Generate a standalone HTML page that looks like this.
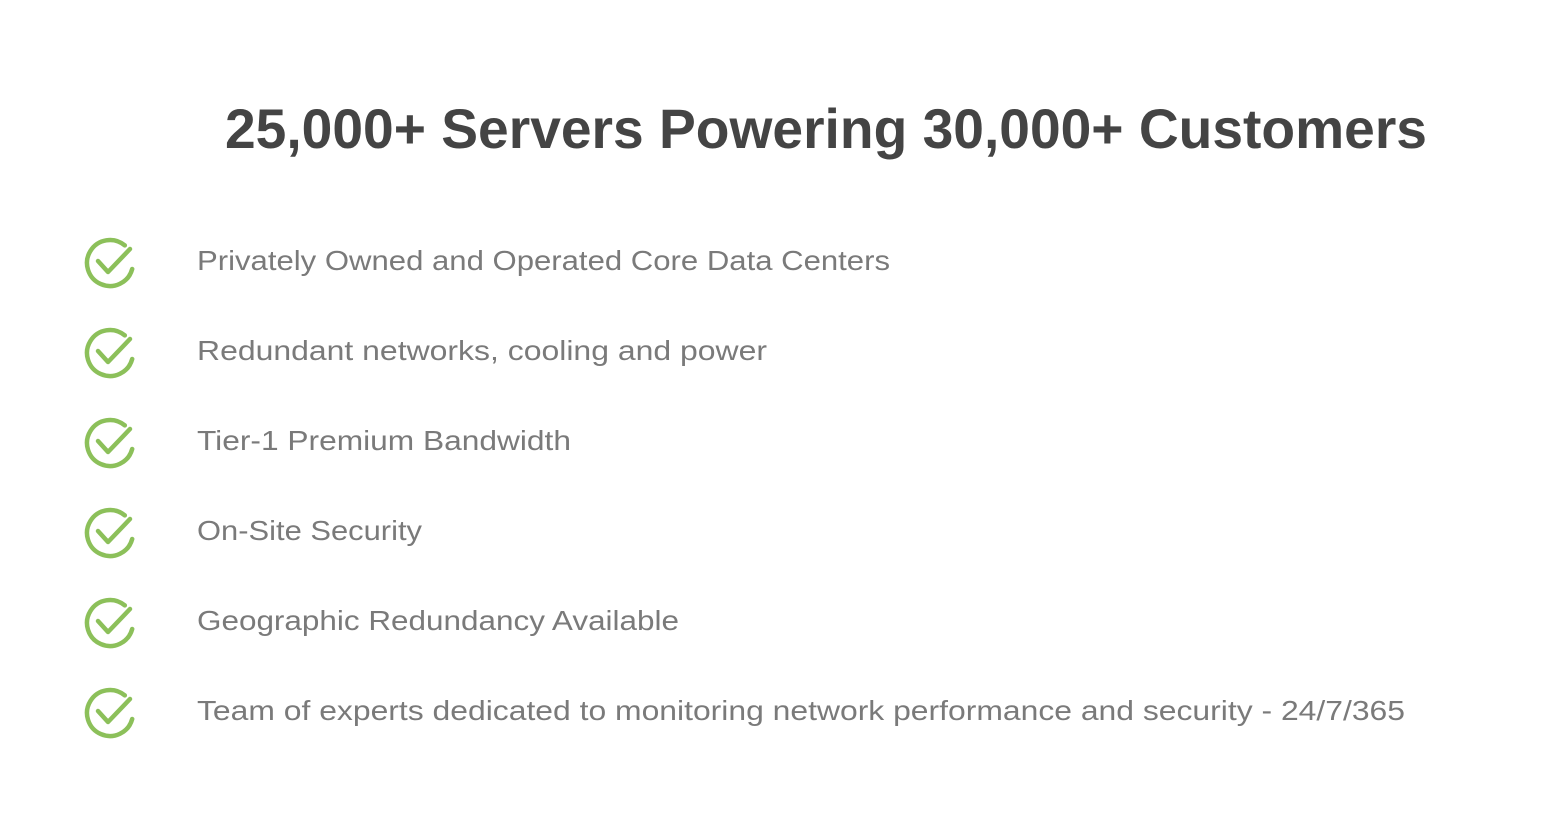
<!DOCTYPE html>
<html><head><meta charset="utf-8"><style>html,body{margin:0;padding:0;background:#fff}</style></head>
<body>
<svg width="1562" height="826" viewBox="0 0 1562 826" xmlns="http://www.w3.org/2000/svg">
<rect width="1562" height="826" fill="#fff"/>
<text x="225" y="148" font-family="Liberation Sans, sans-serif" font-weight="bold" font-size="56" fill="#444" textLength="1202" lengthAdjust="spacingAndGlyphs">25,000+ Servers Powering 30,000+ Customers</text>
<defs>
<g id="chk">
<path d="M124.8 245.4 A23 23 0 1 0 132.2 269" fill="none" stroke="#8cc05a" stroke-width="4.5" stroke-linecap="round"/>
<path d="M98 261 L108 272 L130 249" fill="none" stroke="#8cc05a" stroke-width="4.5" stroke-linecap="round" stroke-linejoin="round"/>
</g>
</defs>
<use href="#chk"/>
<use href="#chk" y="90"/>
<use href="#chk" y="180"/>
<use href="#chk" y="270"/>
<use href="#chk" y="360"/>
<use href="#chk" y="450"/>
<g font-family="Liberation Sans, sans-serif" font-size="28" fill="#7a7a7a">
<text x="197" y="270" textLength="693" lengthAdjust="spacingAndGlyphs">Privately Owned and Operated Core Data Centers</text>
<text x="197" y="360" textLength="570" lengthAdjust="spacingAndGlyphs">Redundant networks, cooling and power</text>
<text x="197" y="450" textLength="374" lengthAdjust="spacingAndGlyphs">Tier-1 Premium Bandwidth</text>
<text x="197" y="540" textLength="225" lengthAdjust="spacingAndGlyphs">On-Site Security</text>
<text x="197" y="630" textLength="482" lengthAdjust="spacingAndGlyphs">Geographic Redundancy Available</text>
<text x="197" y="720" textLength="1208" lengthAdjust="spacingAndGlyphs">Team of experts dedicated to monitoring network performance and security - 24/7/365</text>
</g>
</svg>
</body></html>
